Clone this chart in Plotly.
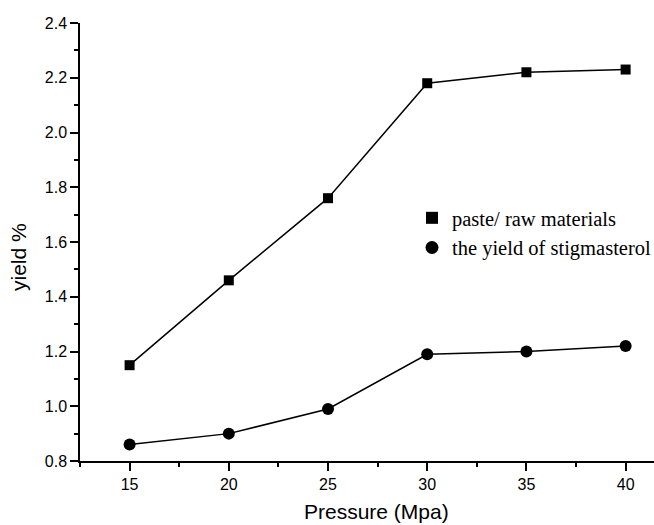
import plotly.graph_objects as go

pressure = [15, 20, 25, 30, 35, 40]
paste_raw = [1.15, 1.46, 1.76, 2.18, 2.22, 2.23]
stigmasterol = [0.86, 0.90, 0.99, 1.19, 1.20, 1.22]
series_names = ["paste/ raw materials", "the yield of stigmasterol"]
x_ticks = [15, 20, 25, 30, 35, 40]
y_ticks = [0.8, 1.0, 1.2, 1.4, 1.6, 1.8, 2.0, 2.2, 2.4]
x_title = "Pressure (Mpa)"
y_title = "yield %"

fig = go.Figure()
fig.add_trace(go.Scatter(x=pressure, y=paste_raw, mode="lines+markers",
                         line=dict(color="black", width=1.5),
                         marker=dict(symbol="square", size=10, color="black"),
                         showlegend=False))
fig.add_trace(go.Scatter(x=pressure, y=stigmasterol, mode="lines+markers",
                         line=dict(color="black", width=1.5),
                         marker=dict(symbol="circle", size=12, color="black"),
                         showlegend=False))
# legend entries (markers only)
fig.add_trace(go.Scatter(x=[None], y=[None], mode="markers", name=series_names[0],
                         marker=dict(symbol="square", size=12, color="black")))
fig.add_trace(go.Scatter(x=[None], y=[None], mode="markers", name=series_names[1],
                         marker=dict(symbol="circle", size=13, color="black")))

sans = "Liberation Sans, Arial, sans-serif"
axis_font = dict(family=sans, size=16, color="black")
fig.update_layout(
    width=654, height=525,
    margin=dict(l=80, r=0, t=23, b=64, autoexpand=False),
    plot_bgcolor="white", paper_bgcolor="white",
    legend=dict(x=(412-80)/574, y=(461-198)/438,
                xanchor="left", yanchor="top",
                font=dict(family="Liberation Serif, Times New Roman, serif", size=20.5, color="black"),
                bgcolor="rgba(0,0,0,0)", tracegroupgap=0, itemwidth=30),
    xaxis=dict(range=[12.5, 41.43], tickvals=x_ticks, showgrid=False, zeroline=False,
               showline=True, linecolor="black", linewidth=1.5,
               ticks="outside", ticklen=8, tickwidth=1.5, tickcolor="black",
               minor=dict(dtick=2.5, tick0=0, ticks="outside", ticklen=4, tickwidth=1.5, tickcolor="black"),
               tickfont=axis_font),
    yaxis=dict(range=[0.8, 2.4], tickvals=y_ticks, tickformat=".1f", showgrid=False, zeroline=False,
               showline=True, linecolor="black", linewidth=1.5,
               ticks="outside", ticklen=8, tickwidth=1.5, tickcolor="black",
               minor=dict(dtick=0.1, tick0=0.8, ticks="outside", ticklen=4, tickwidth=1.5, tickcolor="black"),
               tickfont=axis_font),
    annotations=[
        dict(text=x_title, xref="paper", yref="paper", x=(376.5-80)/574, y=(461-511)/438,
             xanchor="center", yanchor="middle", showarrow=False,
             font=dict(family=sans, size=21, color="black")),
        dict(text=y_title, xref="paper", yref="paper", x=(18-80)/574, y=(461-257)/438,
             xanchor="center", yanchor="middle", showarrow=False, textangle=-90,
             font=dict(family=sans, size=21, color="black")),
    ],
)
fig.write_html("out.html")
